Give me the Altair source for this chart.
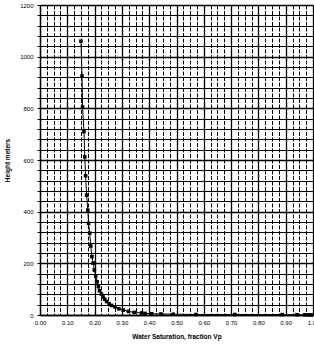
import altair as alt
import pandas as pd

sw = [0.150, 0.154, 0.156, 0.161, 0.164, 0.167, 0.171, 0.175, 0.178, 0.182,
      0.186, 0.190, 0.195, 0.199, 0.204, 0.209, 0.214, 0.218, 0.225, 0.231,
      0.237, 0.244, 0.253, 0.262, 0.275, 0.289, 0.305, 0.324, 0.345, 0.372,
      0.385, 0.409, 0.443, 0.488, 0.571, 0.714, 0.887, 0.941, 0.970, 0.985, 0.995]
height = [1060, 925, 805, 710, 612, 539, 464, 406, 355, 317,
          267, 226, 201, 174, 151, 129, 110, 94, 81, 70,
          61, 52, 44, 37, 31, 24, 19, 14, 10, 8,
          6, 5, 4, 3, 2, 2, 1.5, 1, 0.8, 0.5, 0.3]

x_ticks = [round(i * 0.025, 3) for i in range(41)]
y_ticks = [i * 40 for i in range(31)]

df = pd.DataFrame({"sw": sw, "h": height})

FONT = "Liberation Sans"
MAJOR_X = "abs(round(datum.value*10) - datum.value*10) < 0.001"

x_enc = alt.X(
    "sw:Q",
    scale=alt.Scale(domain=[0, 1], nice=False, zero=False),
    axis=alt.Axis(
        values=x_ticks,
        labelExpr=MAJOR_X + " ? format(datum.value, '.2f') : ''",
        ticks=False,
        grid=True,
        gridColor="black",
        gridOpacity=1,
        gridWidth={"condition": {"test": MAJOR_X, "value": 1.3}, "value": 1},
        gridDash={"condition": {"test": MAJOR_X, "value": []}, "value": [4, 1.5]},
        domainColor="black",
        domainWidth=1.3,
        labelFont=FONT,
        labelFontSize=6,
        labelColor="black",
        labelPadding=4,
        labelFlush=False,
        labelOverlap=False,
        title="Water Saturation, fraction Vp",
        titleFont=FONT,
        titleFontSize=6.5,
        titleFontWeight="bold",
        titleColor="black",
        titlePadding=8,
    ),
)
y_enc = alt.Y(
    "h:Q",
    scale=alt.Scale(domain=[0, 1200], nice=False),
    axis=alt.Axis(
        values=y_ticks,
        labelExpr="datum.value % 200 == 0 ? format(datum.value, 'd') : ''",
        ticks=True,
        tickSize=3,
        tickColor="black",
        grid=True,
        gridColor="black",
        gridOpacity=1,
        gridWidth={"condition": {"test": "datum.value % 200 == 0", "value": 1.3}, "value": 1},
        domainColor="black",
        domainWidth=1.3,
        labelFont=FONT,
        labelFontSize=6,
        labelColor="black",
        labelPadding=4,
        labelOverlap=False,
        title="Height meters",
        titleFont=FONT,
        titleFontSize=6.5,
        titleFontWeight="bold",
        titleColor="black",
        titlePadding=9,
    ),
)

base = alt.Chart(df).encode(x=x_enc, y=y_enc)
line = base.mark_line(color="black", strokeWidth=1, clip=True).encode(order="sw:Q")
pts = base.mark_point(shape="square", filled=True, size=13, color="black", opacity=1)

chart = alt.layer(line, pts).properties(
    width=273,
    height=310,
    autosize=alt.AutoSizeParams(type="none"),
    padding={"left": 40, "top": 5, "right": 1, "bottom": 31},
).configure_view(stroke="black", strokeWidth=1.3).configure(background="white")

chart.save("out.html", embed_options={"renderer": "svg", "actions": False})
